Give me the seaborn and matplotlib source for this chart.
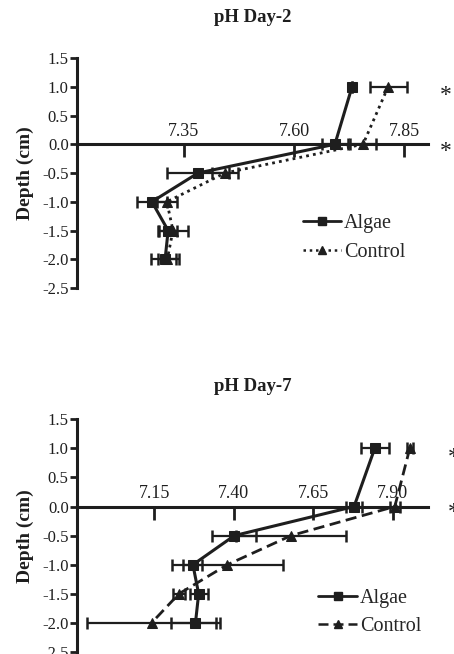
import numpy as np
import pandas as pd
import matplotlib
matplotlib.use("Agg")
import matplotlib.pyplot as plt
import seaborn as sns
from matplotlib.lines import Line2D

sns.set_theme(style="white")
plt.rcParams['font.family'] = ['Liberation Serif', 'DejaVu Serif']
plt.rcParams['axes.unicode_minus'] = False

depth = [1.0, 0.0, -0.5, -1.0, -1.5, -2.0]

# Day-2
d2_algae = [7.732, 7.693, 7.382, 7.277, 7.314, 7.307]
d2_algae_err = [0.0, 0.03, 0.07, 0.034, 0.02, 0.032]
d2_control = [7.814, 7.757, 7.443, 7.311, 7.325, 7.312]
d2_control_err = [0.042, 0.03, 0.03, 0.023, 0.034, 0.02]

# Day-7
d7_algae = [7.843, 7.778, 7.402, 7.272, 7.29, 7.28]
d7_algae_err = [0.044, 0.024, 0.069, 0.03, 0.028, 0.078]
d7_control = [7.953, 7.906, 7.58, 7.38, 7.228, 7.142]
d7_control_err = [0.01, 0.015, 0.172, 0.175, 0.02, 0.204]

d2_xticks = [7.35, 7.60, 7.85]
d7_xticks = [7.15, 7.40, 7.65, 7.90]
yticks = [1.5, 1.0, 0.5, 0.0, -0.5, -1.0, -1.5, -2.0, -2.5]

COL = '#1e1e1e'

fig = plt.figure(figsize=(4.54, 6.54), dpi=100)


def panel(rect, title, tpad, algae, aerr, control, cerr, xlim, xticks, cdash,
          star_x, star_ys, legend_loc):
    ax = fig.add_axes(rect)
    df = pd.DataFrame({
        'pH': algae + control,
        'Depth': depth + depth,
        'grp': ['Algae'] * len(depth) + ['Control'] * len(depth),
    })
    ax.errorbar(control, depth, xerr=cerr, fmt='none', ecolor=COL, elinewidth=1.6,
                capsize=4, capthick=1.8, zorder=2)
    ax.errorbar(algae, depth, xerr=aerr, fmt='none', ecolor=COL, elinewidth=1.6,
                capsize=4, capthick=1.8, zorder=2)
    sns.lineplot(data=df[df.grp == 'Control'], x='pH', y='Depth', sort=False,
                 estimator=None, color=COL, lw=2.0, linestyle=cdash, marker='^',
                 markersize=7, markeredgecolor=COL, ax=ax, zorder=3)
    sns.lineplot(data=df[df.grp == 'Algae'], x='pH', y='Depth', sort=False,
                 estimator=None, color=COL, lw=2.2, linestyle='-', marker='s',
                 markersize=7, markeredgecolor=COL, ax=ax, zorder=4)
    ax.set_xlim(*xlim)
    ax.set_ylim(-2.5, 1.5)
    ax.set_yticks(yticks)
    ax.set_yticklabels([f'{v:.1f}' for v in yticks])
    ax.set_xticks(xticks)
    ax.set_xticklabels([f'{v:.2f}' for v in xticks])
    ax.xaxis.set_ticks_position('top')
    ax.xaxis.set_label_position('top')
    ax.spines['top'].set_position(('data', 0))
    ax.spines['bottom'].set_visible(False)
    ax.spines['right'].set_visible(False)
    for s in ['top', 'left']:
        ax.spines[s].set_linewidth(2.2)
        ax.spines[s].set_color(COL)
    ax.tick_params(axis='x', direction='in', length=9, width=2, colors=COL,
                   labelsize=13, pad=3)
    ax.tick_params(axis='y', direction='out', length=5, width=2, colors=COL,
                   labelsize=12, pad=1, left=True)
    ax.set_xlabel('')
    ax.set_ylabel('Depth (cm)', fontsize=14, fontweight='bold', color=COL, labelpad=6)
    ax.set_title(title, fontsize=13.5, fontweight='bold', color=COL, pad=tpad)
    ax.grid(False)
    if ax.get_legend():
        ax.get_legend().remove()
    handles = [
        Line2D([], [], color=COL, lw=2, ls='-', marker='s', markersize=6),
        Line2D([], [], color=COL, lw=1.8, ls=cdash, marker='^', markersize=6),
    ]
    ax.legend(handles, ['Algae', 'Control'], loc='lower left',
              bbox_to_anchor=legend_loc, frameon=False, fontsize=14.5,
              handlelength=1.9, handletextpad=0.15, labelspacing=0.45,
              borderaxespad=0)
    for yy in star_ys:
        ax.text(star_x, yy, '*', transform=ax.get_yaxis_transform(),
                fontsize=17, color=COL, ha='center', va='center', clip_on=False)
    return ax


panel([0.1696, 0.5596, 0.773, 0.3517], 'pH Day-2', 26, d2_algae, d2_algae_err,
      d2_control, d2_control_err, (7.1068, 7.9045), d2_xticks, (0, (1, 1.5)),
      1.05, [0.85, -0.12], (0.62, 0.08))
panel([0.1696, 0.003, 0.773, 0.356], 'pH Day-7', 20, d7_algae, d7_algae_err,
      d7_control, d7_control_err, (6.908, 8.01), d7_xticks, (0, (4, 2)),
      1.075, [0.85, -0.1], (0.665, 0.035))

fig.savefig('out.png', dpi=100)
